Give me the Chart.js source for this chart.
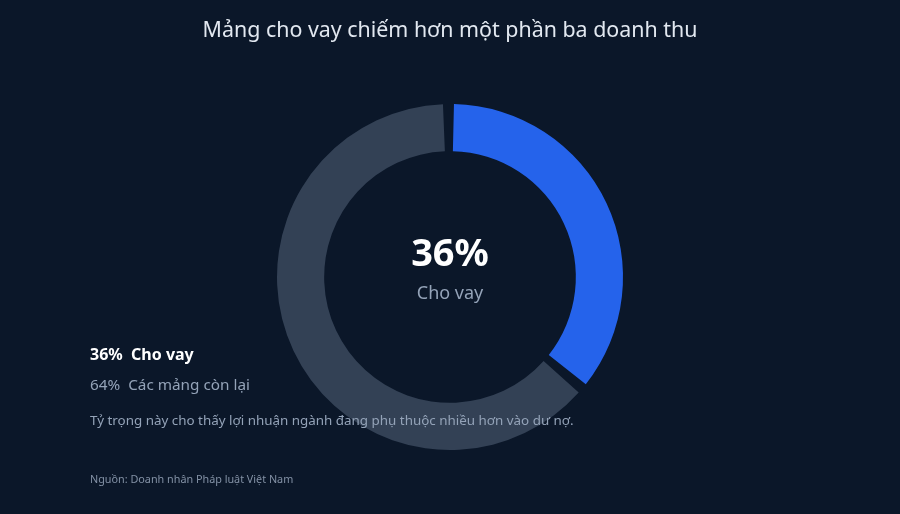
<!DOCTYPE html>
<html lang="vi">
<head>
<meta charset="utf-8">
<title>Mảng cho vay</title>
<script src="https://cdn.jsdelivr.net/npm/chart.js@4.4.1/dist/chart.umd.min.js"></script>
<style>
    html, body {
        margin: 0;
        padding: 0;
        background: #0b1729;
        font-family: "Noto Sans", "Open Sans", sans-serif;
    }
    #wrap {
        position: relative;
        width: 900px;
        height: 514px;
        overflow: hidden;
    }
    #myChart {
        position: absolute;
        left: 0;
        top: 0;
    }
    #title {
        position: absolute;
        left: 0;
        top: 14px;
        width: 900px;
        text-align: center;
        color: #e2e8f0;
        font-size: 21.4px;
        font-weight: 400;
        margin: 0;
    }
    #legend {
        position: absolute;
        left: 90px;
        top: 339px;
    }
    .item {
        line-height: 30px;
        white-space: pre;
    }
    .item.main {
        color: #ffffff;
        font-weight: 700;
        font-size: 16px;
    }
    .item.rest {
        color: #94a3b8;
        font-size: 15.3px;
    }
    #note {
        position: absolute;
        left: 90px;
        top: 411px;
        color: #94a3b8;
        font-size: 13.4px;
    }
    #source {
        position: absolute;
        left: 90px;
        top: 471px;
        color: #8391a5;
        font-size: 10.8px;
    }
</style>
</head>
<body>
<div id="wrap">
    <canvas id="myChart" width="900" height="514"></canvas>
    <h1 id="title"></h1>
    <div id="legend"></div>
    <div id="note"></div>
    <div id="source"></div>
</div>
<script>
    const titleText = "Mảng cho vay chiếm hơn một phần ba doanh thu";
    const labels = ["Cho vay", "Các mảng còn lại"];
    const values = [36, 64];
    const noteText = "Tỷ trọng này cho thấy lợi nhuận ngành đang phụ thuộc nhiều hơn vào dư nợ.";
    const sourceText = "Nguồn: Doanh nhân Pháp luật Việt Nam";

    const sliceColors = ["#2563eb", "#334155"];

    document.getElementById("title").textContent = titleText;
    document.getElementById("note").textContent = noteText;
    document.getElementById("source").textContent = sourceText;

    const legendEl = document.getElementById("legend");
    labels.forEach((label, i) => {
        const row = document.createElement("div");
        row.className = "item " + (i === 0 ? "main" : "rest");
        row.textContent = `${values[i]}%  ${label}`;
        legendEl.appendChild(row);
    });

    // text in the hole of the doughnut
    const centerText = {
        id: "centerText",
        afterDraw(chart) {
            const meta = chart.getDatasetMeta(0);
            const arc = meta.data[0];
            if (!arc) return;
            const ctx = chart.ctx;
            ctx.save();
            ctx.textAlign = "center";
            ctx.textBaseline = "middle";
            ctx.fillStyle = "#ffffff";
            ctx.font = "700 38px 'Noto Sans'";
            ctx.fillText(`${values[0]}%`, arc.x, arc.y - 22);
            ctx.fillStyle = "#94a3b8";
            ctx.font = "400 18px 'Noto Sans'";
            ctx.fillText(labels[0], arc.x, arc.y + 17);
            ctx.restore();
        },
    };

    const ctx = document.getElementById("myChart").getContext("2d");
    const myChart = new Chart(ctx, {
        type: "doughnut",
        data: {
            labels: labels,
            datasets: [
                {
                    data: values,
                    backgroundColor: sliceColors,
                    borderWidth: 0,
                    spacing: 6,
                },
            ],
        },
        options: {
            responsive: false,
            animation: false,
            radius: 170,
            cutout: 125,
            layout: {
                padding: { top: 101, bottom: 61, left: 0, right: 0 },
            },
            plugins: {
                legend: { display: false },
                tooltip: { enabled: false },
            },
        },
        plugins: [centerText],
    });
</script>
</body>
</html>
